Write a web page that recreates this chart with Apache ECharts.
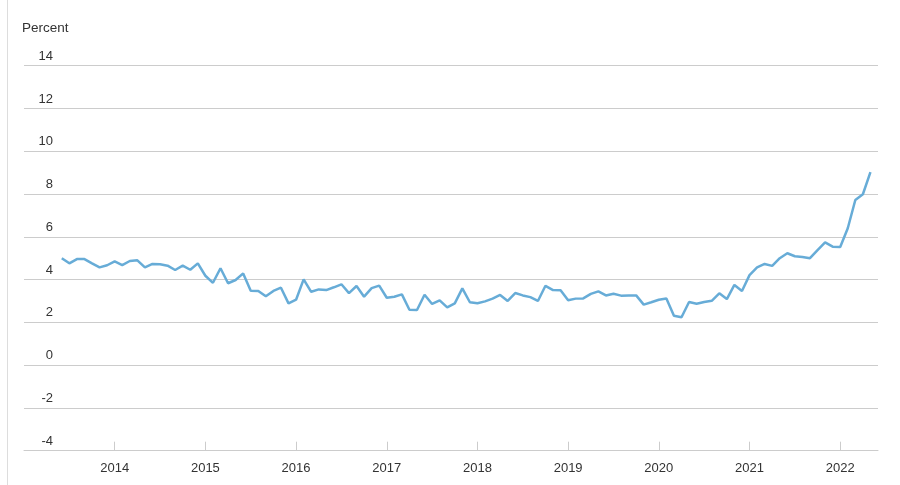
<!DOCTYPE html>
<html>
<head>
<meta charset="utf-8">
<script src="https://cdn.jsdelivr.net/npm/echarts@6/dist/echarts.min.js"></script>
<style>
html,body{margin:0;padding:0;background:#fff;}
#chart{width:900px;height:485px;}
</style>
</head>
<body>
<div id="chart"></div>
<script>
// Monthly values, June 2013 – May 2022 (percent)
var startYear = 2013, startMonth = 6;
var values = [
  5.00, 4.76, 4.96, 4.96, 4.76, 4.57, 4.67,
  4.85, 4.68, 4.87, 4.90, 4.57, 4.73, 4.72, 4.65, 4.45, 4.65, 4.46, 4.76,
  4.18, 3.85, 4.53, 3.83, 3.98, 4.29, 3.48, 3.47, 3.22, 3.47, 3.62, 2.89,
  3.06, 4.01, 3.43, 3.54, 3.51, 3.64, 3.78, 3.37, 3.70, 3.20, 3.60, 3.72,
  3.15, 3.20, 3.31, 2.59, 2.58, 3.29, 2.86, 3.03, 2.70, 2.89, 3.59, 2.94,
  2.89, 2.98, 3.11, 3.28, 3.00, 3.37, 3.26, 3.18, 3.00, 3.71, 3.51, 3.50,
  3.03, 3.11, 3.12, 3.33, 3.45, 3.26, 3.34, 3.25, 3.26, 3.26, 2.83, 2.94,
  3.06, 3.12, 2.31, 2.24, 2.95, 2.87, 2.95, 3.01, 3.36, 3.09, 3.75, 3.47,
  4.21, 4.57, 4.73, 4.64, 5.00, 5.23, 5.09, 5.06, 5.00, 5.38, 5.74, 5.54,
  5.52, 6.40, 7.72, 7.99, 9.02
];
// Axis categories: January 2013 – June 2022
var axisStart = [2013, 1], axisEnd = [2022, 6];
var yTicks = { min: -4, max: 14, interval: 2 };
var yTitle = 'Percent';

function key(y, m) { return y + '-' + (m < 10 ? '0' + m : m); }
var categories = [];
for (var y = axisStart[0], m = axisStart[1]; y < axisEnd[0] || (y === axisEnd[0] && m <= axisEnd[1]); ) {
  categories.push(key(y, m));
  m++; if (m > 12) { m = 1; y++; }
}
var seriesData = [];
(function () {
  var y = startYear, m = startMonth;
  for (var i = 0; i < values.length; i++) {
    seriesData.push([key(y, m), values[i]]);
    m++; if (m > 12) { m = 1; y++; }
  }
})();

function isJan(index, value) { return index > 0 && /-01$/.test(value); }

var chart = echarts.init(document.getElementById('chart'), null, { renderer: 'canvas' });
chart.setOption({
  animation: false,
  textStyle: { fontFamily: 'Liberation Sans, Arial, sans-serif' },
  graphic: [
    { type: 'line', shape: { x1: 7.5, y1: 0, x2: 7.5, y2: 485 }, style: { stroke: '#dddddd', lineWidth: 1 } },
    { type: 'text', left: 22, top: 21, style: { text: yTitle, fill: '#333', fontSize: 13.5, fontFamily: 'Liberation Sans, Arial, sans-serif' } }
  ],
  grid: { left: 24, right: 22, top: 65.7, bottom: 34.3 },
  xAxis: {
    type: 'category',
    data: categories,
    boundaryGap: false,
    axisLine: { show: true, onZero: false, lineStyle: { color: '#cccccc', width: 1 } },
    axisTick: { show: true, inside: true, length: 9, interval: isJan, lineStyle: { color: '#cccccc' } },
    axisLabel: { interval: isJan, formatter: function (v) { return v.slice(0, 4); }, color: '#333', fontSize: 13, margin: 11 },
    splitLine: { show: false }
  },
  yAxis: {
    type: 'value',
    min: yTicks.min, max: yTicks.max, interval: yTicks.interval,
    axisLine: { show: false },
    axisTick: { show: false },
    axisLabel: { inside: true, align: 'right', verticalAlign: 'bottom', margin: 29, padding: [0, 0, 3, 0], color: '#333', fontSize: 13 },
    splitLine: { lineStyle: { color: '#cccccc', width: 1 } }
  },
  series: [{
    type: 'line',
    data: seriesData,
    showSymbol: false,
    symbol: 'none',
    lineStyle: { color: '#67acd7', width: 2.5 },
    connectNulls: false
  }]
});
</script>
</body>
</html>
